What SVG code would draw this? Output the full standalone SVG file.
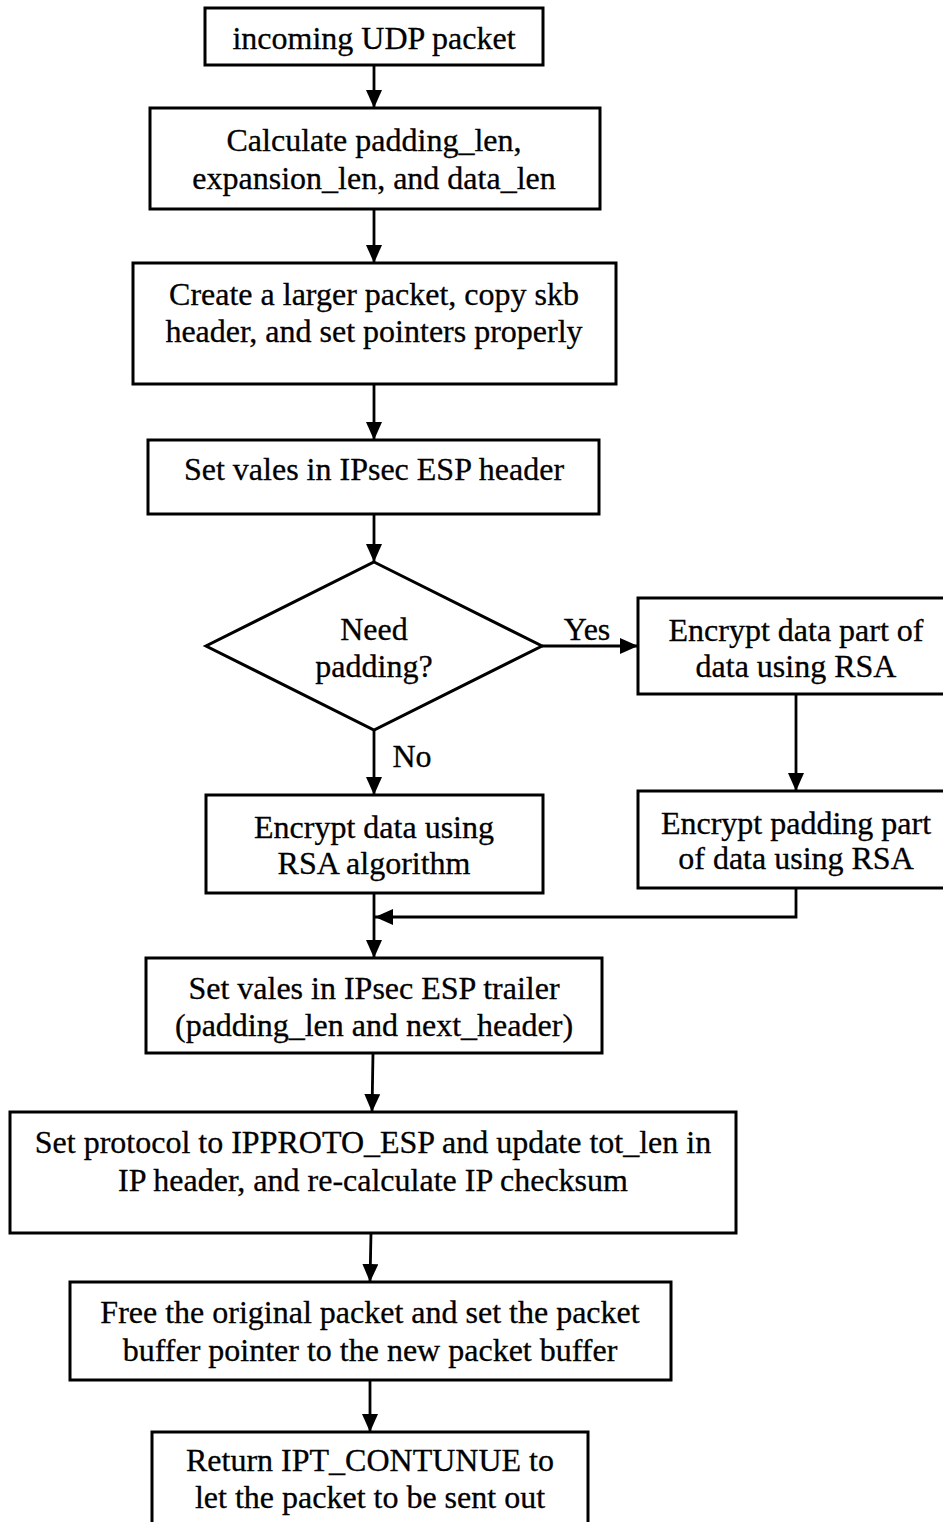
<svg xmlns="http://www.w3.org/2000/svg" width="943" height="1522" viewBox="0 0 943 1522">
  <style>
    .box { fill: #ffffff; stroke: #000000; stroke-width: 3; }
    .edge { fill: none; stroke: #000000; stroke-width: 2.8; }
    .lbl { font-family: "Liberation Serif", "Times New Roman", serif; font-size: 32px; fill: #000000; stroke: #000000; stroke-width: 0.3; text-anchor: middle; }
  </style>
  <defs>
    <marker id="arrow" markerUnits="userSpaceOnUse" markerWidth="18" markerHeight="16" refX="18" refY="8" orient="auto">
      <path d="M0,0 L18,8 L0,16 Z" fill="#000000"/>
    </marker>
  </defs>
  <rect width="943" height="1522" fill="#ffffff"/>

  <!-- connectors -->
  <g id="connectors">
    <line class="edge" x1="374" y1="65" x2="374" y2="108" marker-end="url(#arrow)"/>
    <line class="edge" x1="374" y1="209" x2="374" y2="263" marker-end="url(#arrow)"/>
    <line class="edge" x1="374" y1="384" x2="374" y2="440" marker-end="url(#arrow)"/>
    <line class="edge" x1="374" y1="514" x2="374" y2="562" marker-end="url(#arrow)"/>
    <line class="edge" x1="542" y1="646" x2="638" y2="646" marker-end="url(#arrow)"/>
    <line class="edge" x1="374" y1="730" x2="374" y2="795" marker-end="url(#arrow)"/>
    <line class="edge" x1="796" y1="694" x2="796" y2="791" marker-end="url(#arrow)"/>
    <path class="edge" d="M796,888 V917 H375" marker-end="url(#arrow)"/>
    <line class="edge" x1="374" y1="893" x2="374" y2="958" marker-end="url(#arrow)"/>
    <line class="edge" x1="373" y1="1053" x2="372" y2="1112" marker-end="url(#arrow)"/>
    <line class="edge" x1="371" y1="1233" x2="370" y2="1282" marker-end="url(#arrow)"/>
    <line class="edge" x1="370" y1="1380" x2="370" y2="1432" marker-end="url(#arrow)"/>
    <text class="lbl" x="587" y="640">Yes</text>
    <text class="lbl" x="412" y="767">No</text>
  </g>

  <g id="incoming">
    <rect class="box" x="205" y="8" width="338" height="57"/>
    <text class="lbl" x="374" y="49">incoming UDP packet</text>
  </g>

  <g id="calculate">
    <rect class="box" x="150" y="108" width="450" height="101"/>
    <text class="lbl" x="374" y="151">Calculate padding_len,</text>
    <text class="lbl" x="374" y="189">expansion_len, and data_len</text>
  </g>

  <g id="create">
    <rect class="box" x="133" y="263" width="483" height="121"/>
    <text class="lbl" x="374" y="305">Create a larger packet, copy skb</text>
    <text class="lbl" x="374" y="342">header, and set pointers properly</text>
  </g>

  <g id="esp-header">
    <rect class="box" x="148" y="440" width="451" height="74"/>
    <text class="lbl" x="374" y="480">Set vales in IPsec ESP header</text>
  </g>

  <g id="need-padding">
    <polygon class="box" points="374,562 542,646 374,730 206,646"/>
    <text class="lbl" x="374" y="640">Need</text>
    <text class="lbl" x="374" y="677">padding?</text>
  </g>

  <g id="encrypt-data-part">
    <rect class="box" x="638" y="598" width="318" height="96"/>
    <text class="lbl" x="796" y="641">Encrypt data part of</text>
    <text class="lbl" x="796" y="677">data using RSA</text>
  </g>

  <g id="encrypt-padding-part">
    <rect class="box" x="638" y="791" width="318" height="97"/>
    <text class="lbl" x="796" y="834">Encrypt padding part</text>
    <text class="lbl" x="796" y="869">of data using RSA</text>
  </g>

  <g id="encrypt-data">
    <rect class="box" x="206" y="795" width="337" height="98"/>
    <text class="lbl" x="374" y="838">Encrypt data using</text>
    <text class="lbl" x="374" y="874">RSA algorithm</text>
  </g>

  <g id="esp-trailer">
    <rect class="box" x="146" y="958" width="456" height="95"/>
    <text class="lbl" x="374" y="999">Set vales in IPsec ESP trailer</text>
    <text class="lbl" x="374" y="1036">(padding_len and next_header)</text>
  </g>

  <g id="set-protocol">
    <rect class="box" x="10" y="1112" width="726" height="121"/>
    <text class="lbl" x="373" y="1153">Set protocol to IPPROTO_ESP and update tot_len in</text>
    <text class="lbl" x="373" y="1191">IP header, and re-calculate IP checksum</text>
  </g>

  <g id="free-packet">
    <rect class="box" x="70" y="1282" width="601" height="98"/>
    <text class="lbl" x="370" y="1323">Free the original packet and set the packet</text>
    <text class="lbl" x="370" y="1361">buffer pointer to the new packet buffer</text>
  </g>

  <g id="return">
    <rect class="box" x="152" y="1432" width="436" height="100"/>
    <text class="lbl" x="370" y="1471">Return IPT_CONTUNUE to</text>
    <text class="lbl" x="370" y="1508">let the packet to be sent out</text>
  </g>
</svg>
